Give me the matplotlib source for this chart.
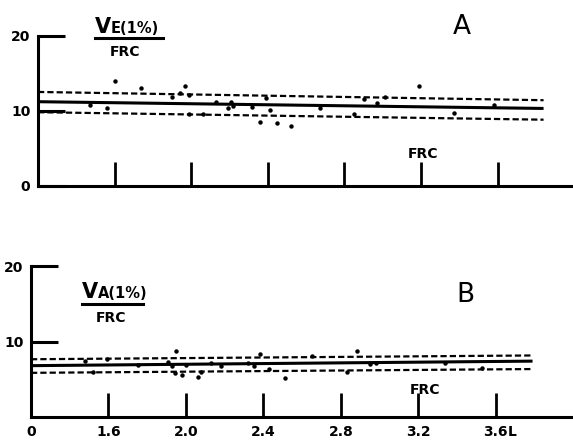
import matplotlib
matplotlib.use("Agg")
import matplotlib.pyplot as plt
from matplotlib.lines import Line2D

plt.rcParams['font.family'] = ['DejaVu Sans']
plt.rcParams['lines.scale_dashes'] = False

# ---------------- data ----------------
# Panel A: VE(1%)/FRC vs FRC (L); x axis origin is labelled "0" (broken axis at 1.2)
xa = [1.47, 1.56, 1.60, 1.74, 1.90, 1.94, 1.97, 1.99, 1.99, 2.06, 2.13, 2.19, 2.21, 2.22,
      2.32, 2.36, 2.39, 2.41, 2.45, 2.52, 2.67, 2.85, 2.90, 2.97, 3.01, 3.19, 3.37, 3.58]
ya = [10.8, 10.3, 14.0, 13.0, 11.8, 12.3, 13.3, 12.1, 9.6, 9.6, 11.1, 10.3, 11.2, 10.6,
      10.5, 8.5, 11.7, 10.1, 8.3, 7.9, 10.3, 9.6, 11.6, 11.0, 11.8, 13.3, 9.7, 10.7]
fit_xa = [1.2, 3.84]
fit_a = [11.2, 10.3]
upper_a = [12.5, 11.4]
lower_a = [9.8, 8.8]

# Panel B: VA(1%)/FRC vs FRC (L)
xb = [1.48, 1.52, 1.59, 1.75, 1.91, 1.93, 1.945, 1.95, 1.98, 2.00, 2.06, 2.08, 2.13,
      2.18, 2.32, 2.35, 2.38, 2.43, 2.51, 2.65, 2.83, 2.885, 2.95, 2.98, 3.34, 3.53]
yb = [7.4, 6.0, 7.7, 6.9, 7.3, 6.7, 5.8, 8.7, 5.6, 6.9, 5.3, 5.9, 7.1,
      6.8, 7.1, 6.8, 8.3, 6.4, 5.2, 8.1, 5.9, 8.8, 7.0, 7.1, 7.1, 6.5]
fit_xb = [1.2, 3.79]
fit_b = [6.8, 7.4]
upper_b = [7.65, 8.15]
lower_b = [5.85, 6.35]

xtick_vals = [1.2, 1.6, 2.0, 2.4, 2.8, 3.2, 3.6]
xtick_labels = ["0", "1.6", "2.0", "2.4", "2.8", "3.2", "3.6"]
ytick_vals_a = [0, 10, 20]
ytick_labels_a = ["0", "10", "20"]
ytick_vals_b = [10, 20]
ytick_labels_b = ["10", "20"]

# ---------------- figure ----------------
W, H = 573, 442
fig = plt.figure(figsize=(W / 100, H / 100), dpi=100)
fig.patch.set_facecolor('white')


def fx(px):
    return px / W


def fy(py):
    return 1 - py / H


def style_axes(ax):
    for s in ['top', 'right']:
        ax.spines[s].set_visible(False)
    for s in ['left', 'bottom']:
        ax.spines[s].set_linewidth(2.2)
        ax.spines[s].set_capstyle('projecting')
    ax.set_facecolor('none')
    ax.tick_params(axis='y', direction='in', length=19.5, width=2.2, pad=5.5,
                   labelsize=10)
    ax.tick_params(axis='x', direction='in', length=17.5, width=2.0, pad=6,
                   labelsize=10)
    for lab in ax.get_xticklabels() + ax.get_yticklabels():
        lab.set_fontweight('bold')


def draw_panel(ax, x, y, fx_, fit, up, lo):
    ax.plot(fx_, fit, color='black', lw=2.2, solid_capstyle='butt')
    ax.plot(fx_, up, color='black', lw=1.6, dashes=(4.5, 2.2))
    ax.plot(fx_, lo, color='black', lw=1.6, dashes=(4.5, 2.2))
    ax.plot(x, y, 'o', color='black', ms=3.2, mew=0)


# Panel A
axA = fig.add_axes([fx(38), fy(185.7), 1 - fx(38), (185.7 - 35.7) / H])
axA.set_xlim(1.2, 1.2 + 535 / 191.5)
axA.set_ylim(0, 20)
axA.set_xticks(xtick_vals)
axA.set_xticklabels([""] * len(xtick_vals))
axA.set_yticks(ytick_vals_a)
axA.set_yticklabels(ytick_labels_a)
style_axes(axA)
draw_panel(axA, xa, ya, fit_xa, fit_a, upper_a, lower_a)

# Panel B
axB = fig.add_axes([fx(31), fy(417), 1 - fx(31), (417 - 266) / H])
axB.set_xlim(1.2, 1.2 + 542 / 193.65)
axB.set_ylim(0, 20)
axB.set_xticks(xtick_vals)
axB.set_xticklabels(xtick_labels)
axB.set_yticks(ytick_vals_b)
axB.set_yticklabels(ytick_labels_b)
style_axes(axB)
draw_panel(axB, xb, yb, fit_xb, fit_b, upper_b, lower_b)
axB.annotate("L", xy=(3.6, 0), xycoords=('data', 'data'), xytext=(8.6, -10.8),
             textcoords='offset points', ha='left', va='center',
             fontsize=10, fontweight='bold', annotation_clip=False)

# Panel letters
fig.text(fx(462), fy(27), "A", fontsize=19, ha='center', va='center')
fig.text(fx(465), fy(295), "B", fontsize=19, ha='center', va='center')

# Y-axis titles (fraction style)
fig.text(fx(95), fy(33), "V", fontsize=15, fontweight='bold', ha='left', va='baseline')
fig.text(fx(111), fy(33), "E(1%)", fontsize=10.5, fontweight='bold', ha='left', va='baseline')
fig.add_artist(Line2D([fx(95), fx(163)], [fy(38), fy(38)], transform=fig.transFigure,
                      color='black', lw=2.2))
fig.text(fx(125), fy(51.5), "FRC", fontsize=10, fontweight='bold', ha='center', va='center')

fig.text(fx(82), fy(298), "V", fontsize=15, fontweight='bold', ha='left', va='baseline')
fig.text(fx(98), fy(298), "A(1%)", fontsize=10.5, fontweight='bold', ha='left', va='baseline')
fig.add_artist(Line2D([fx(82), fx(143)], [fy(304), fy(304)], transform=fig.transFigure,
                      color='black', lw=2.2))
fig.text(fx(111), fy(318.5), "FRC", fontsize=10, fontweight='bold', ha='center', va='center')

# x-axis names
fig.text(fx(423), fy(154.5), "FRC", fontsize=10, fontweight='bold', ha='center', va='center')
fig.text(fx(425), fy(390), "FRC", fontsize=10, fontweight='bold', ha='center', va='center')

fig.savefig("out.png", dpi=100, facecolor='white')
